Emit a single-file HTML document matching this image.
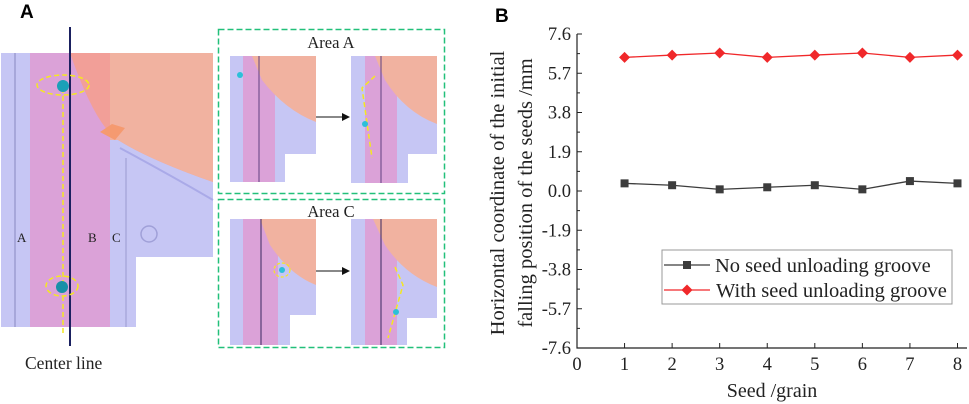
<!DOCTYPE html>
<html><head><meta charset="utf-8"><style>
body{margin:0;background:#fff;width:969px;height:404px;overflow:hidden}
svg{display:block}
.serif{font-family:"Liberation Serif",serif}
</style></head><body>
<svg width="969" height="404" viewBox="0 0 969 404">
<g>
<text x="20" y="18" font-family="Liberation Sans" font-weight="bold" font-size="19">A</text>
<g>
<rect x="1" y="53" width="212" height="274" fill="#c6c6f4"/>
<rect x="30" y="53" width="80" height="274" fill="#dba2d8"/>
<path d="M70 53 L213 53 L213 182 Q150 160 118 140 Q95 125 70 53Z" fill="#f29f98"/>
<path d="M110 53 L213 53 L213 182 Q150 160 118 140 L110 140Z" fill="#f1b2a0"/>
<path d="M100 132 L112 124 L125 128 L115 140 Z" fill="#f59a70"/>
<path d="M120 148 Q170 175 213 200" stroke="#aaaae8" stroke-width="2" fill="none"/>
<line x1="15" y1="53" x2="15" y2="327" stroke="#8888c0" stroke-width="1"/>
<line x1="126" y1="158" x2="126" y2="327" stroke="#9999d0" stroke-width="1"/>
<rect x="136" y="257" width="77" height="70" fill="#fff"/>
<circle cx="149" cy="234" r="8" fill="none" stroke="#a0a0d8" stroke-width="1.5"/>
<line x1="70" y1="27" x2="70" y2="346" stroke="#1a2060" stroke-width="2"/>
<line x1="63" y1="88" x2="63" y2="335" stroke="#f4e820" stroke-width="1.5" stroke-dasharray="5,3"/>
<ellipse cx="63" cy="85" rx="26" ry="10" fill="none" stroke="#f4e820" stroke-width="1.5" stroke-dasharray="5,3"/>
<circle cx="63" cy="86" r="6" fill="#1aa0b8"/>
<ellipse cx="62" cy="286" rx="16" ry="10" fill="none" stroke="#f4e820" stroke-width="1.5" stroke-dasharray="5,3"/>
<circle cx="62" cy="287" r="6" fill="#1890a8"/>
<text x="17" y="242" class="serif" font-size="13" fill="#222">A</text>
<text x="88" y="242" class="serif" font-size="13" fill="#222">B</text>
<text x="112" y="242" class="serif" font-size="13" fill="#222">C</text>
</g>
<text x="25" y="369" class="serif" font-size="17.5" fill="#222">Center line</text>
<g>
<rect x="218.5" y="29.5" width="226" height="164" fill="none" stroke="#22c07a" stroke-width="1.5" stroke-dasharray="6,3"/>
<text x="331" y="48" text-anchor="middle" class="serif" font-size="16.5" fill="#222">Area A</text>
<rect x="230" y="56" width="86" height="126" fill="#c6c6f4"/>
<rect x="243" y="56" width="32" height="126" fill="#dba2d8"/>
<path d="M252 56 L316 56 L316 122 Q285 110 262 80Z" fill="#f1b2a0"/>
<rect x="285" y="154" width="31" height="28" fill="#fff"/>
<line x1="259" y1="56" x2="259" y2="182" stroke="#604080" stroke-width="1"/>
<circle cx="240" cy="75" r="3" fill="#2cc0d8"/>
<line x1="316" y1="117" x2="346" y2="117" stroke="#111" stroke-width="1"/>
<path d="M342 113 L350 117 L342 121Z" fill="#111"/>
<rect x="351" y="56" width="86" height="127" fill="#c6c6f4"/>
<rect x="365" y="56" width="32" height="127" fill="#dba2d8"/>
<path d="M375 56 L437 56 L437 124 Q405 112 385 80Z" fill="#f1b2a0"/>
<rect x="408" y="154" width="29" height="29" fill="#fff"/>
<line x1="381" y1="56" x2="381" y2="183" stroke="#604080" stroke-width="1"/>
<path d="M375 76 L362 88 L372 158" stroke="#f4e820" stroke-width="1.5" fill="none" stroke-dasharray="5,3"/>
<circle cx="365" cy="124" r="3" fill="#2cc0d8"/>
</g>
<g>
<rect x="218.5" y="199.5" width="226" height="148" fill="none" stroke="#22c07a" stroke-width="1.5" stroke-dasharray="6,3"/>
<text x="331" y="217" text-anchor="middle" class="serif" font-size="16.5" fill="#222">Area C</text>
<rect x="230" y="219" width="86" height="126" fill="#c6c6f4"/>
<rect x="243" y="219" width="35" height="126" fill="#dba2d8"/>
<path d="M260 219 L316 219 L316 285 Q290 275 270 245Z" fill="#f1b2a0"/>
<rect x="290" y="315" width="26" height="30" fill="#fff"/>
<line x1="261" y1="219" x2="261" y2="345" stroke="#3a2860" stroke-width="1"/>
<ellipse cx="282" cy="270" rx="8" ry="7" fill="none" stroke="#f4e820" stroke-width="1.2" stroke-dasharray="3,2"/>
<circle cx="282" cy="270" r="3" fill="#2cc0d8"/>
<line x1="316" y1="271" x2="346" y2="271" stroke="#111" stroke-width="1"/>
<path d="M342 267 L350 271 L342 275Z" fill="#111"/>
<rect x="351" y="219" width="86" height="126" fill="#c6c6f4"/>
<rect x="365" y="219" width="32" height="126" fill="#dba2d8"/>
<path d="M373 219 L437 219 L437 287 Q405 275 385 245Z" fill="#f1b2a0"/>
<rect x="407" y="318" width="30" height="27" fill="#fff"/>
<line x1="381" y1="219" x2="381" y2="345" stroke="#3a2860" stroke-width="1"/>
<path d="M395 267 L403 285 L388 338" stroke="#f4e820" stroke-width="1.5" fill="none" stroke-dasharray="5,3"/>
<circle cx="396" cy="312" r="3" fill="#2cc0d8"/>
</g>
</g>
<text x="495" y="22" font-family="Liberation Sans" font-weight="bold" font-size="19">B</text>
<g id="chart"></g>
</svg>
<script>
const xTicks=[0,1,2,3,4,5,6,7,8];
const yTicks=[7.6,5.7,3.8,1.9,0.0,-1.9,-3.8,-5.7,-7.6];
const yTickLabels=["7.6","5.7","3.8","1.9","0.0","-1.9","-3.8","-5.7","-7.6"];
const seeds=[1,2,3,4,5,6,7,8];
const noGroove=[0.37,0.28,0.08,0.18,0.28,0.08,0.48,0.37];
const withGroove=[6.47,6.58,6.68,6.47,6.58,6.68,6.47,6.58];
const NS="http://www.w3.org/2000/svg";
const L=577,R=967,T=34,B=348,XMAX=8.2,YMIN=-7.6,YMAX=7.6;
const X=v=>L+(v/XMAX)*(R-L);
const Y=v=>T+(YMAX-v)/(YMAX-YMIN)*(B-T);
const g=document.getElementById('chart');
function mk(tag,attrs,parent){const e=document.createElementNS(NS,tag);for(const k in attrs)e.setAttribute(k,attrs[k]);(parent||g).appendChild(e);return e;}
let e;
e=mk('path',{d:`M${L} ${T}V${B}H${R}`,stroke:'#222','stroke-width':1.2,fill:'none'});


yTicks.forEach((v,i)=>{
 mk('line',{x1:L,x2:L+5,y1:Y(v),y2:Y(v),stroke:'#222'});
 if(i<yTicks.length-1){const m=(v+yTicks[i+1])/2;mk('line',{x1:L,x2:L+3,y1:Y(m),y2:Y(m),stroke:'#222'});}
 const t=mk('text',{x:571,y:Y(v)+6,'text-anchor':'end','font-family':'Liberation Serif, serif','font-size':18.5,fill:'#222'});
 t.textContent=yTickLabels[i];
 
 
});
xTicks.forEach(v=>{
 mk('line',{x1:X(v),x2:X(v),y1:B,y2:B-5,stroke:'#222'});
 const t=mk('text',{x:X(v),y:B+22,'text-anchor':'middle','font-family':'Liberation Serif, serif','font-size':18.5,fill:'#222'});
 t.textContent=v;
 
 
});
e=mk('text',{x:772,y:397,'text-anchor':'middle','font-family':'Liberation Serif, serif','font-size':20,fill:'#222'});
e.textContent='Seed /grain';


e=mk('text',{transform:'translate(504,193) rotate(-90)','text-anchor':'middle','font-family':'Liberation Serif, serif','font-size':20.5,fill:'#222'});
e.textContent='Horizontal coordinate of the initial';


e=mk('text',{transform:'translate(532,193) rotate(-90)','text-anchor':'middle','font-family':'Liberation Serif, serif','font-size':20.5,fill:'#222'});
e.textContent='falling position of the seeds /mm';


function series(vals,color,shape,name){
 const p=mk('polyline',{points:seeds.map((s,i)=>X(s)+','+Y(vals[i])).join(' '),fill:'none',stroke:color,'stroke-width':1.3});
 
 
 seeds.forEach((s,i)=>{let m;
  if(shape==='sq') m=mk('rect',{x:X(s)-4,y:Y(vals[i])-4,width:8,height:8,fill:color});
  else m=mk('path',{d:`M${X(s)} ${Y(vals[i])-5.5}l5.5 5.5l-5.5 5.5l-5.5 -5.5z`,fill:color});
  
  
 });
}
series(noGroove,'#3c3c3c','sq','no-groove');
series(withGroove,'#f0282a','dia','with-groove');
const lg=mk('g',{});


mk('rect',{x:662,y:250,width:290,height:54,fill:'#fff',stroke:'#999'},lg);
mk('line',{x1:664,x2:710,y1:265,y2:265,stroke:'#3c3c3c','stroke-width':1.3},lg);
mk('rect',{x:683,y:261,width:8,height:8,fill:'#3c3c3c'},lg);
mk('line',{x1:664,x2:710,y1:290,y2:290,stroke:'#f0282a','stroke-width':1.3},lg);
mk('path',{d:'M687 284.5l5.5 5.5l-5.5 5.5l-5.5 -5.5z',fill:'#f0282a'},lg);
e=mk('text',{x:715,y:272,'font-family':'Liberation Serif, serif','font-size':20.5,fill:'#222'},lg);
e.textContent='No seed unloading groove';


e=mk('text',{x:716,y:297,'font-family':'Liberation Serif, serif','font-size':20.5,fill:'#222'},lg);
e.textContent='With seed unloading groove';


</script>
</body></html>
